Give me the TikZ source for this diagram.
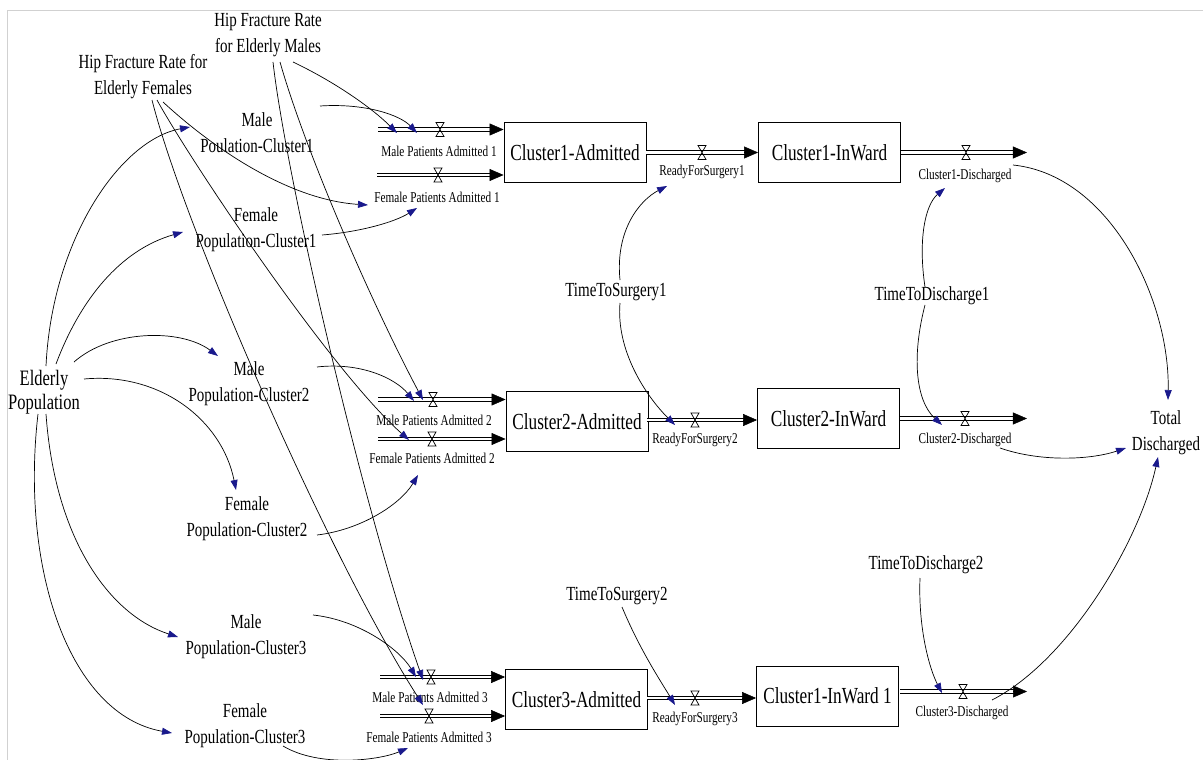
\documentclass[tikz,border=0pt]{standalone}
\usepackage{fontspec}
\setmainfont{Liberation Serif}
\usetikzlibrary{arrows.meta}
\newcommand\sq[1]{\scalebox{0.75}[1]{#1}}
\newcommand\stockfont{\rmfamily\fontsize{23}{27}\selectfont}
\newcommand\auxfont{\rmfamily\fontsize{20}{26}\selectfont}
\newcommand\epfont{\rmfamily\fontsize{22}{24}\selectfont}
\newcommand\flowfont{\rmfamily\fontsize{15}{17}\selectfont}
\definecolor{linkblue}{RGB}{25,25,140}
\newcommand\sdflow[2]{\draw[pipe] (#1) -- ([xshift=-12pt]#2); \draw[pipehead] ([xshift=-14pt]#2) -- (#2);}
\begin{document}
\begin{tikzpicture}[x=1pt,y=-1pt,
  stock/.style={draw, line width=0.9pt, minimum width=142pt, minimum height=60pt, inner sep=0pt, font=\stockfont},
  aux/.style={align=center, inner sep=0pt, font=\auxfont},
  flowlbl/.style={inner sep=0pt, font=\flowfont},
  pipe/.style={draw, line width=0.9pt, double distance=2.4pt},
  pipehead/.style={-{Triangle[length=14pt,width=12pt]}, line width=0.5pt},
  link/.style={line width=0.7pt, -{Triangle[length=10pt,width=7pt,color=linkblue]}},
  valve/.pic={\draw[line width=0.7pt] (-4,-7) -- (4,-7) -- (-4,7) -- (4,7) -- cycle;}]
\useasboundingbox (0,0) rectangle (1203,760);
\fill[white] (0,0) rectangle (1203,760);
\draw[black!18, line width=0.8pt] (7,760) -- (7,10) -- (1203,10);

% stocks
\node[stock] (c1a) at (575,152.5) {\sq{Cluster1-Admitted}};
\node[stock] (c1w) at (829.5,152.5) {\sq{Cluster1-InWard}};
\node[stock] (c2a) at (577,421.5) {\sq{Cluster2-Admitted}};
\node[stock] (c2w) at (828.5,418.5) {\sq{Cluster2-InWard}};
\node[stock] (c3a) at (576.5,699.5) {\sq{Cluster3-Admitted}};
\node[stock] (c3w) at (827.5,696) {\sq{Cluster1-InWard 1}};

% auxiliaries
\node[aux] (hfm) at (268,35) {\sq{Hip Fracture Rate}\\\sq{for Elderly Males}};
\node[aux] (hff) at (143,77) {\sq{Hip Fracture Rate for}\\\sq{Elderly Females}};
\node[aux] (mp1) at (257,133) {\sq{Male}\\\sq{Poulation-Cluster1}};
\node[aux] (fp1) at (256,230) {\sq{Female}\\\sq{Population-Cluster1}};
\node[aux] (mp2) at (249,384) {\sq{Male}\\\sq{Population-Cluster2}};
\node[aux] (fp2) at (247,519) {\sq{Female}\\\sq{Population-Cluster2}};
\node[aux] (mp3) at (246,637) {\sq{Male}\\\sq{Population-Cluster3}};
\node[aux] (fp3) at (245,726) {\sq{Female}\\\sq{Population-Cluster3}};
\node[aux, font=\epfont, align=center] (ep) at (44,392) {\sq{Elderly}\\\sq{Population}};
\node[aux] (td) at (1166,433) {\sq{Total}\\\sq{Discharged}};
\node[aux] (tts1) at (616,292) {\sq{TimeToSurgery1}};
\node[aux] (ttd1) at (932,296) {\sq{TimeToDischarge1}};
\node[aux] (tts2) at (617,596) {\sq{TimeToSurgery2}};
\node[aux] (ttd2) at (926,565) {\sq{TimeToDischarge2}};

% flows row 1
\coordinate (m1s) at (378,129.5); \coordinate (m1e) at (m1s -| c1a.west); \sdflow{m1s}{m1e}
\coordinate (f1s) at (377,175); \coordinate (f1e) at (f1s -| c1a.west); \sdflow{f1s}{f1e}
\coordinate (r1s) at (c1a.east); \coordinate (r1e) at (c1w.west); \sdflow{r1s}{r1e}
\coordinate (d1s) at (c1w.east); \coordinate (d1e) at ([xshift=126pt]c1w.east); \sdflow{d1s}{d1e}
% row 2
\coordinate (m2s) at (378,399.5); \coordinate (m2e) at (m2s -| c2a.west); \sdflow{m2s}{m2e}
\coordinate (f2s) at (378,439); \coordinate (f2e) at (f2s -| c2a.west); \sdflow{f2s}{f2e}
\coordinate (r2s) at (647,420); \coordinate (r2e) at (r2s -| c2w.west); \sdflow{r2s}{r2e}
\coordinate (d2s) at (c2w.east); \coordinate (d2e) at ([xshift=127pt]c2w.east); \sdflow{d2s}{d2e}
% row 3
\coordinate (m3s) at (380,677); \coordinate (m3e) at (m3s -| c3a.west); \sdflow{m3s}{m3e}
\coordinate (f3s) at (380,716); \coordinate (f3e) at (f3s -| c3a.west); \sdflow{f3s}{f3e}
\coordinate (r3s) at (647,698); \coordinate (r3e) at (r3s -| c3w.west); \sdflow{r3s}{r3e}
\coordinate (d3s) at (900,691.5); \coordinate (d3e) at (1027,691.5); \sdflow{d3s}{d3e}

% valves
\pic at (440,129.5) {valve};
\pic at (438,175) {valve};
\pic at (702,152.5) {valve};
\pic at (966,152.5) {valve};
\pic at (433,399.5) {valve};
\pic at (432,439) {valve};
\pic at (695,420) {valve};
\pic at (965,418.5) {valve};
\pic at (431,677) {valve};
\pic at (429,716) {valve};
\pic at (695,698) {valve};
\pic at (963,691.5) {valve};

% flow labels
\node[flowlbl] (lm1) at (439,151) {\sq{Male Patients Admitted 1}};
\node[flowlbl] (lf1) at (437,197) {\sq{Female Patients Admitted 1}};
\node[flowlbl] (lr1) at (702,172) {\sq{ReadyForSurgery1}};
\node[flowlbl] (ld1) at (965,176) {\sq{Cluster1-Discharged}};
\node[flowlbl] (lm2) at (434,420) {\sq{Male Patients Admitted 2}};
\node[flowlbl] (lf2) at (432,458) {\sq{Female Patients Admitted 2}};
\node[flowlbl] (lr2) at (695,440) {\sq{ReadyForSurgery2}};
\node[flowlbl] (ld2) at (965,440) {\sq{Cluster2-Discharged}};
\node[flowlbl] (lm3) at (430,697) {\sq{Male Patients Admitted 3}};
\node[flowlbl] (lf3) at (429,737) {\sq{Female Patients Admitted 3}};
\node[flowlbl] (lr3) at (695,719) {\sq{ReadyForSurgery3}};
\node[flowlbl] (ld3) at (962,713) {\sq{Cluster3-Discharged}};

% link targets on flows
\coordinate (am1h) at (397,133); \coordinate (am1p) at (417,133);
\coordinate (af1h) at (368,205); \coordinate (af1p) at (417,208);
\coordinate (am2h) at (423,400); \coordinate (am2p) at (414,401);
\coordinate (af2h) at (409,440); \coordinate (af2p) at (418,475);
\coordinate (am3h) at (423,680); \coordinate (am3p) at (416,677);
\coordinate (af3h) at (423,705); \coordinate (af3p) at (408,748);
\coordinate (ar1) at (667,186); \coordinate (ar2) at (675,425); \coordinate (ar3) at (675,705);
\coordinate (ad1) at (945,188); \coordinate (ad2) at (942,425); \coordinate (ad3) at (942,693);

% links from Elderly Population
\draw[link] ([shift={(2,-26)}]ep.center) .. controls (52,240) and (120,140) .. ([shift={(-67,-6)}]mp1.center);
\draw[link] ([shift={(12,-28)}]ep.center) .. controls (80,300) and (120,250) .. ([shift={(-73,2)}]fp1.center);
\draw[link] ([shift={(30,-30)}]ep.center) .. controls (110,330) and (180,328) .. ([shift={(-31,-28)}]mp2.center);
\draw[link] ([shift={(40,-13)}]ep.center) .. controls (160,372) and (222,420) .. ([shift={(-11,-29)}]fp2.center);
\draw[link] ([shift={(2,22)}]ep.center) .. controls (55,540) and (110,615) .. ([shift={(-68,0)}]mp3.center);
\draw[link] ([shift={(-6,22)}]ep.center) .. controls (20,570) and (70,715) .. ([shift={(-73,7)}]fp3.center);

% links to admission flows
\draw[link] ([shift={(25,27)}]hfm.center) .. controls (335,82) and (372,108) .. (am1h);
\draw[link] ([shift={(63,-27)}]mp1.center) .. controls (365,103) and (400,115) .. (am1p);
\draw[link] ([shift={(20,25)}]hff.center) .. controls (215,150) and (290,200) .. (af1h);
\draw[link] ([shift={(66,5)}]fp1.center) .. controls (360,232) and (395,222) .. (af1p);
\draw[link] ([shift={(12,27)}]hfm.center) .. controls (305,150) and (370,300) .. (am2h);
\draw[link] ([shift={(5,27)}]hfm.center) .. controls (285,170) and (360,500) .. (am3h);
\draw[link] ([shift={(14,23)}]hff.center) .. controls (190,160) and (330,370) .. (af2h);
\draw[link] ([shift={(9,23)}]hff.center) .. controls (185,230) and (330,560) .. (af3h);
\draw[link] ([shift={(68,-17)}]mp2.center) .. controls (360,362) and (395,378) .. (am2p);
\draw[link] ([shift={(70,16)}]fp2.center) .. controls (360,530) and (400,505) .. (af2p);
\draw[link] ([shift={(67,-22)}]mp3.center) .. controls (360,620) and (400,650) .. (am3p);
\draw[link] ([shift={(38,20)}]fp3.center) .. controls (320,768) and (380,760) .. (af3p);

% time links
\draw[link] ([shift={(4,-12)}]tts1.center) .. controls (615,230) and (640,200) .. (ar1);
\draw[link] ([shift={(4,11)}]tts1.center) .. controls (616,350) and (645,395) .. (ar2);
\draw[link] ([shift={(-7,-9)}]ttd1.center) .. controls (918,240) and (925,205) .. (ad1);
\draw[link] ([shift={(-7,9)}]ttd1.center) .. controls (912,355) and (915,400) .. (ad2);
\draw[link] ([shift={(5,11)}]tts2.center) .. controls (640,650) and (660,680) .. (ar3);
\draw[link] ([shift={(-6,13)}]ttd2.center) .. controls (918,630) and (930,670) .. (ad3);

% discharges to total
\draw[link] ([shift={(48,-11)}]ld1.center) .. controls (1110,175) and (1170,300) .. ([shift={(2,-33)}]td.center);
\draw[link] ([shift={(35,8)}]ld2.center) .. controls (1040,462) and (1090,460) .. ([shift={(-40,15)}]td.center);
\draw[link] ([shift={(30,-13)}]ld3.center) .. controls (1070,660) and (1140,540) .. ([shift={(-8,24)}]td.center);
\end{tikzpicture}
\end{document}
